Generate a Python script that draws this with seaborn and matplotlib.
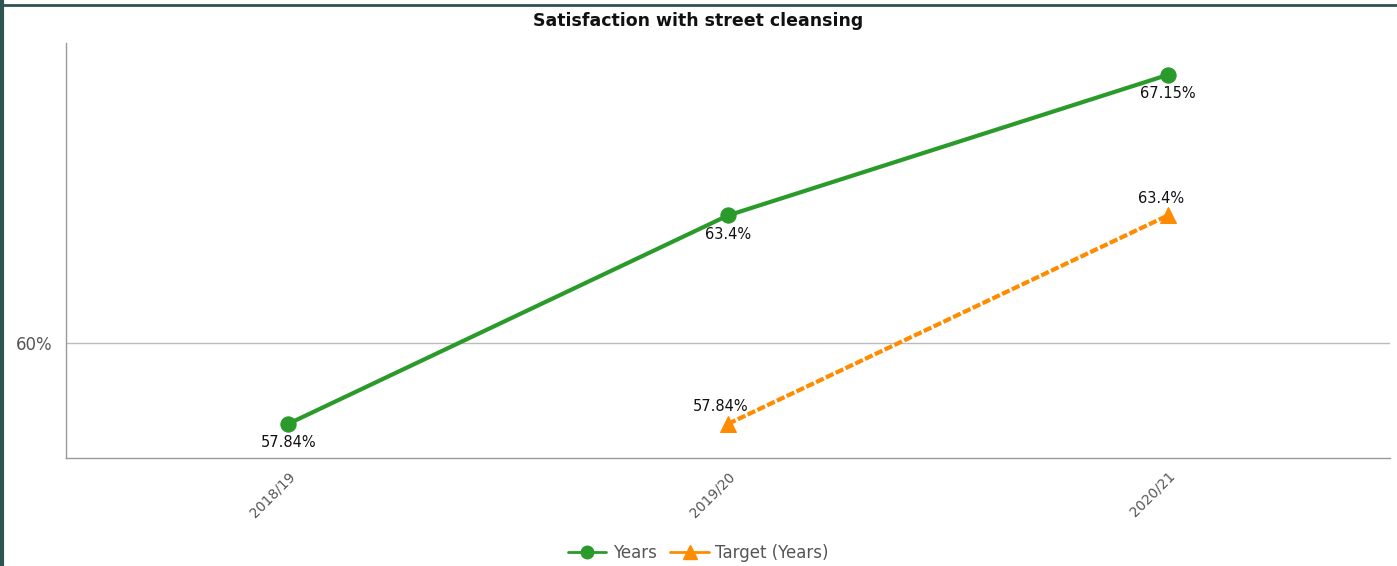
import pandas as pd
import seaborn as sns
import matplotlib.pyplot as plt
from matplotlib.lines import Line2D

# Data
years = ['2018/19', '2019/20', '2020/21']
actual = [57.84, 63.4, 67.15]
target_years = ['2019/20', '2020/21']
target = [57.84, 63.4]

green = '#2a9a2a'
orange = '#ff8c00'

df_actual = pd.DataFrame({'x': [years.index(y) for y in years], 'value': actual})
df_target = pd.DataFrame({'x': [years.index(y) for y in target_years], 'value': target})

sns.set_style('white')
plt.rcParams['font.family'] = ['DejaVu Sans']

fig = plt.figure(figsize=(13.97, 5.66), dpi=100)
ax = fig.add_axes([66 / 1397, 1 - 458 / 566, (1390 - 66) / 1397, (458 - 43) / 566])

sns.lineplot(data=df_actual, x='x', y='value', ax=ax, color=green, linewidth=3,
             marker='o', markersize=11, markeredgecolor=green, legend=False)
sns.lineplot(data=df_target, x='x', y='value', ax=ax, color=orange, linewidth=3,
             linestyle=(0, (2, 0.6)), marker='^', markersize=12, markeredgecolor=orange,
             legend=False)

# value labels
for xi, v in zip(df_actual['x'], df_actual['value']):
    ax.annotate(f'{v:g}%', (xi, v), xytext=(0, -8), textcoords='offset points',
                ha='center', va='top', fontsize=10.5, color='#111111')
for xi, v in zip(df_target['x'], df_target['value']):
    ax.annotate(f'{v:g}%', (xi, v), xytext=(-5, 7), textcoords='offset points',
                ha='center', va='bottom', fontsize=10.5, color='#111111')

ax.set_xlim(-0.505, 2.505)
ax.set_ylim(56.93, 68.0)
ax.set_xticks(range(len(years)))
ax.set_xticklabels(years, rotation=45, ha='right', rotation_mode='anchor',
                   fontsize=10, color='#555555')
ax.set_yticks([60])
ax.set_yticklabels(['60%'], fontsize=12, color='#555555')
ax.axhline(60, color='#bbbbbb', linewidth=1, zorder=0)
ax.tick_params(axis='x', length=4, color='#888888', pad=4)
ax.tick_params(axis='y', length=4, color='#888888', pad=6)
ax.set_xlabel('')
ax.set_ylabel('')

for side in ['top', 'right']:
    ax.spines[side].set_visible(False)
for side in ['left', 'bottom']:
    ax.spines[side].set_color('#999999')
    ax.spines[side].set_linewidth(1)

fig.text(0.5, 1 - 21 / 566, 'Satisfaction with street cleansing', fontsize=12.5,
         fontweight='bold', ha='center', va='center', color='#111111')

handles = [
    Line2D([], [], color=green, linewidth=2, marker='o', markersize=9),
    Line2D([], [], color=orange, linewidth=2, marker='^', markersize=10),
]
fig.legend(handles, ['Years', 'Target (Years)'], loc='center',
           bbox_to_anchor=(0.5, 1 - 553 / 566), ncol=2, frameon=False, fontsize=12,
           handlelength=2.3, columnspacing=0.8, handletextpad=0.4, labelcolor='#555555')

# window border
border = '#2f5252'
fig.add_artist(Line2D([0, 1], [1 - 5 / 566, 1 - 5 / 566], transform=fig.transFigure,
                      color=border, linewidth=2))
fig.add_artist(Line2D([2 / 1397, 2 / 1397], [0, 1], transform=fig.transFigure,
                      color=border, linewidth=3))

fig.savefig('out.png', dpi=100)
